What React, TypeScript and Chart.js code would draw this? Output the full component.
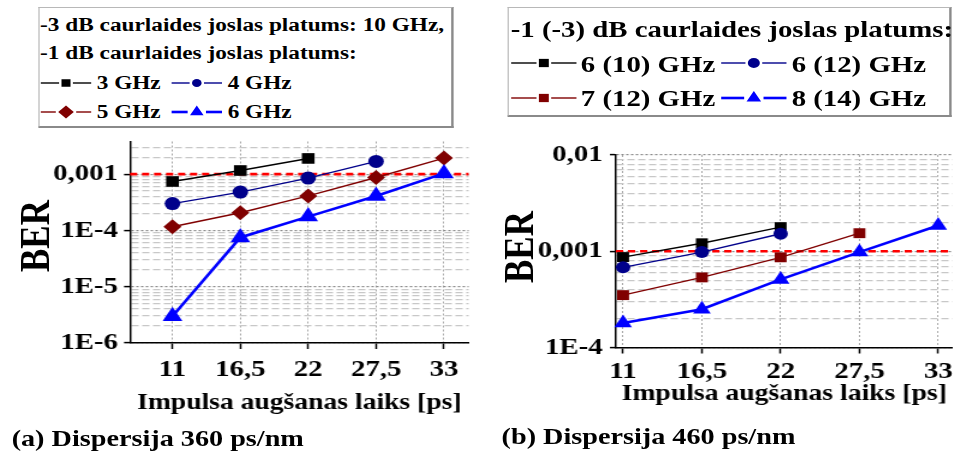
import React, { useEffect, useRef } from 'react';
import { Chart, registerables } from 'chart.js';

Chart.register(...registerables);

// The reference figure is horizontally stretched; we lay it out in a
// narrower logical space and stretch it back with a CSS transform.
const SX = 1.2;
const LOGICAL_W = 962 / SX;
const FONT = '"Liberation Serif", "Times New Roman", Times, serif';

// ---------- shared data ----------
const X_VALUES = [11, 16.5, 22, 27.5, 33];
const X_TICK_LABELS = ['11', '16,5', '22', '27,5', '33'];
const THRESHOLD = 0.001;
const X_AXIS_TITLE = 'Impulsa augšanas laiks [ps]';
const Y_AXIS_TITLE = 'BER';

// ---------- (a) Dispersija 360 ps/nm ----------
const A_CAPTION = '(a) Dispersija 360 ps/nm';
const A_LEGEND_TITLE_1 = '-3 dB caurlaides joslas platums: 10 GHz,';
const A_LEGEND_TITLE_2 = '-1 dB caurlaides joslas platums:';
const A_LABELS = ['3 GHz', '4 GHz', '5 GHz', '6 GHz'];
const A_3GHZ = [7.4e-4, 1.16e-3, 1.9e-3];
const A_4GHZ = [3.0e-4, 4.8e-4, 8.5e-4, 1.68e-3];
const A_5GHZ = [1.16e-4, 2.06e-4, 4.1e-4, 8.7e-4, 1.93e-3];
const A_6GHZ = [3.0e-6, 7.5e-5, 1.76e-4, 4.1e-4, 1.03e-3];
const A_Y_MIN = 1e-6;
const A_Y_MAX = 3.8e-3;
const A_DECADES = [1e-6, 1e-5, 1e-4, 1e-3];
const A_DECADE_LABELS = ['1E-6', '1E-5', '1E-4', '0,001'];

// ---------- (b) Dispersija 460 ps/nm ----------
const B_CAPTION = '(b) Dispersija 460 ps/nm';
const B_LEGEND_TITLE = '-1 (-3) dB caurlaides joslas platums:';
const B_LABELS = ['6 (10) GHz', '6 (12) GHz', '7 (12) GHz', '8 (14) GHz'];
const B_6_10 = [8.7e-4, 1.21e-3, 1.78e-3];
const B_6_12 = [6.8e-4, 9.8e-4, 1.52e-3];
const B_7_12 = [3.5e-4, 5.35e-4, 8.65e-4, 1.54e-3];
const B_8_14 = [1.8e-4, 2.5e-4, 5.1e-4, 9.8e-4, 1.85e-3];
const B_Y_MIN = 1e-4;
const B_Y_MAX = 1e-2;
const B_DECADES = [1e-4, 1e-3, 1e-2];
const B_DECADE_LABELS = ['1E-4', '0,001', '0,01'];

const BLACK = '#000000';
const NAVY = '#00008b';
const DARKRED = '#800000';
const BLUE = '#0000ff';

type Series = { label: string; values: number[]; color: string; width: number; style: string; radius: number };

const A_SERIES: Series[] = [
  { label: A_LABELS[0], values: A_3GHZ, color: BLACK, width: 1.4, style: 'rect', radius: 7.5 },
  { label: A_LABELS[1], values: A_4GHZ, color: NAVY, width: 1.4, style: 'circle', radius: 6.5 },
  { label: A_LABELS[2], values: A_5GHZ, color: DARKRED, width: 1.4, style: 'rectRot', radius: 7.5 },
  { label: A_LABELS[3], values: A_6GHZ, color: BLUE, width: 2.6, style: 'triangle', radius: 9.5 },
];

const B_SERIES: Series[] = [
  { label: B_LABELS[0], values: B_6_10, color: BLACK, width: 1.4, style: 'rect', radius: 7 },
  { label: B_LABELS[1], values: B_6_12, color: NAVY, width: 1.4, style: 'circle', radius: 6 },
  { label: B_LABELS[2], values: B_7_12, color: DARKRED, width: 1.4, style: 'rect', radius: 7 },
  { label: B_LABELS[3], values: B_8_14, color: BLUE, width: 2.6, style: 'triangle', radius: 8.5 },
];

type PanelSpec = {
  series: Series[];
  yMin: number;
  yMax: number;
  decades: number[];
  decadeLabels: string[];
  xMin: number;
  xMax: number;
  padding: { top: number; right: number; left: number; bottom: number };
  yAxisWidth: number;
  xAxisHeight: number;
  xTickPad: number;
  yTickPad: number;
  xTitlePadBottom: number;
};

const thresholdPlugin = {
  id: 'thresholdLine',
  beforeDatasetsDraw(chart: any) {
    const { ctx, chartArea, scales } = chart;
    const y = scales.y.getPixelForValue(THRESHOLD);
    ctx.save();
    ctx.strokeStyle = '#ff0000';
    ctx.lineWidth = 2.6;
    ctx.setLineDash([6, 4]);
    ctx.beginPath();
    ctx.moveTo(chartArea.left, y);
    ctx.lineTo(chartArea.right, y);
    ctx.stroke();
    ctx.restore();
  },
};

function logTicks(decades: number[], max: number) {
  const out: number[] = [];
  for (const d of decades) {
    for (let m = 1; m <= 9; m++) {
      const v = m * d;
      if (v <= max * 1.000001) out.push(v);
    }
  }
  return out;
}

function zeroPadding(sc: any) {
  sc.paddingTop = 0;
  sc.paddingBottom = 0;
  sc.paddingLeft = 0;
  sc.paddingRight = 0;
}

function buildConfig(p: PanelSpec): any {
  const ticks = logTicks(p.decades, p.yMax);
  const decadeIndex = (v: number) => p.decades.findIndex((d) => Math.abs(v / d - 1) < 1e-6);
  const isMajor = (c: any) => !!(c && c.tick && decadeIndex(c.tick.value) >= 0);
  const n = p.series.length;
  return {
    type: 'line',
    data: {
      datasets: p.series.map((s, k) => ({
        label: s.label,
        data: s.values.map((y, i) => ({ x: X_VALUES[i], y })),
        borderColor: s.color,
        backgroundColor: s.color,
        borderWidth: s.width,
        pointStyle: s.style,
        pointRadius: s.radius,
        pointHoverRadius: s.radius,
        pointBackgroundColor: s.color,
        pointBorderColor: s.color,
        pointBorderWidth: 0,
        tension: 0,
        fill: false,
        order: n - k,
        clip: false,
      })),
    },
    options: {
      animation: false,
      responsive: true,
      maintainAspectRatio: false,
      devicePixelRatio: 1,
      events: [],
      layout: { padding: p.padding },
      plugins: {
        legend: { display: false },
        tooltip: { enabled: false },
        title: { display: false },
      },
      scales: {
        x: {
          type: 'linear',
          min: p.xMin,
          max: p.xMax,
          afterBuildTicks: (sc: any) => {
            sc.ticks = X_VALUES.map((v) => ({ value: v }));
          },
          afterFit: (sc: any) => {
            sc.height = p.xAxisHeight;
            zeroPadding(sc);
          },
          ticks: {
            autoSkip: false,
            maxRotation: 0,
            padding: p.xTickPad,
            color: '#000',
            font: { family: FONT, size: 24, weight: 'bold' },
            callback: (v: any) => {
              const i = X_VALUES.indexOf(Number(v));
              return i >= 0 ? X_TICK_LABELS[i] : '';
            },
          },
          grid: {
            color: '#a8a8a8',
            lineWidth: 1,
            tickColor: '#000',
            tickLength: 6,
            tickWidth: 1.5,
            tickBorderDash: [],
          },
          border: { display: true, color: '#000', width: 1.5, dash: [2, 2] },
          title: {
            display: true,
            text: X_AXIS_TITLE,
            color: '#000',
            font: { family: FONT, size: 23, weight: 'bold' },
            padding: { top: 0, bottom: p.xTitlePadBottom },
          },
        },
        y: {
          type: 'logarithmic',
          min: p.yMin,
          max: p.yMax,
          afterBuildTicks: (sc: any) => {
            sc.ticks = ticks.map((v) => ({ value: v }));
          },
          afterFit: (sc: any) => {
            sc.width = p.yAxisWidth;
            zeroPadding(sc);
          },
          ticks: {
            autoSkip: false,
            padding: p.yTickPad,
            color: '#000',
            font: { family: FONT, size: 24, weight: 'bold' },
            callback: (v: any) => {
              const i = decadeIndex(Number(v));
              return i >= 0 ? p.decadeLabels[i] : '';
            },
          },
          grid: {
            color: (c: any) => (isMajor(c) ? '#8a8a8a' : '#c8c8c8'),
            lineWidth: (c: any) => (isMajor(c) ? 1.2 : 1.3),
            tickColor: (c: any) => (isMajor(c) ? '#000' : 'rgba(0,0,0,0)'),
            tickLength: 5,
            tickWidth: 1.5,
            tickBorderDash: [],
          },
          border: {
            display: true,
            color: '#000',
            width: 1.5,
            dash: (c: any) => (isMajor(c) ? [2, 2] : [6, 3]),
          },
          title: { display: false },
        },
      },
    },
    plugins: [thresholdPlugin],
  };
}

const A_SPEC: PanelSpec = {
  series: A_SERIES,
  yMin: A_Y_MIN,
  yMax: A_Y_MAX,
  decades: A_DECADES,
  decadeLabels: A_DECADE_LABELS,
  xMin: 7.56,
  xMax: 35,
  padding: { top: 11.5, right: 4.17, left: 0, bottom: 0 },
  yAxisWidth: 108.33,
  xAxisHeight: 77,
  xTickPad: 6,
  yTickPad: 5,
  xTitlePadBottom: 3.5,
};

const B_SPEC: PanelSpec = {
  series: B_SERIES,
  yMin: B_Y_MIN,
  yMax: B_Y_MAX,
  decades: B_DECADES,
  decadeLabels: B_DECADE_LABELS,
  xMin: 10.5,
  xMax: 34,
  padding: { top: 25, right: 0.83, left: 0, bottom: 0 },
  yAxisWidth: 105,
  xAxisHeight: 72.5,
  xTickPad: 4,
  yTickPad: 6,
  xTitlePadBottom: 12.5,
};

function ChartPanel({ spec, left, top, width, height }: { spec: PanelSpec; left: number; top: number; width: number; height: number }) {
  const ref = useRef<HTMLCanvasElement | null>(null);
  useEffect(() => {
    if (!ref.current) return;
    const chart = new Chart(ref.current, buildConfig(spec));
    return () => chart.destroy();
  }, [spec]);
  return (
    <div style={{ position: 'absolute', left, top, width, height }}>
      <canvas ref={ref} />
    </div>
  );
}

function LegendSymbol({ s, left, cy, width, mSize }: { s: Series; left: number; cy: number; width: number; mSize: number }) {
  const h = 24;
  const c = h / 2;
  const mx = width / 2;
  const gap = 2;
  let marker: React.ReactNode = null;
  let half = mSize;
  if (s.style === 'rect') {
    half = mSize * 0.75;
    marker = <rect x={mx - half} y={c - half} width={half * 2} height={half * 2} fill={s.color} />;
  } else if (s.style === 'circle') {
    marker = <circle cx={mx} cy={c} r={mSize} fill={s.color} />;
  } else if (s.style === 'rectRot') {
    half = mSize;
    marker = <polygon points={`${mx - half},${c} ${mx},${c - half} ${mx + half},${c} ${mx},${c + half}`} fill={s.color} />;
  } else if (s.style === 'triangle') {
    const r = mSize;
    const hw = (r * Math.sqrt(3)) / 2;
    half = hw;
    marker = <polygon points={`${mx},${c - r} ${mx + hw},${c + r / 2} ${mx - hw},${c + r / 2}`} fill={s.color} />;
  }
  const lw = s.width;
  return (
    <svg width={width} height={h} style={{ position: 'absolute', left, top: cy - c, overflow: 'visible' }}>
      <line x1={0} y1={c} x2={mx - half - gap} y2={c} stroke={s.color} strokeWidth={lw} />
      <line x1={mx + half + gap} y1={c} x2={width} y2={c} stroke={s.color} strokeWidth={lw} />
      {marker}
    </svg>
  );
}

function Text({ text, left, baseline, size }: { text: string; left: number; baseline: number; size: number }) {
  return (
    <div
      style={{
        position: 'absolute',
        left,
        top: baseline - 0.8375 * size,
        fontFamily: FONT,
        fontWeight: 'bold',
        fontSize: size,
        lineHeight: `${size}px`,
        whiteSpace: 'nowrap',
        color: '#000',
      }}
    >
      {text}
    </div>
  );
}

function YTitle({ cx, cy, size }: { cx: number; cy: number; size: number }) {
  return (
    <div
      style={{
        position: 'absolute',
        left: cx,
        top: cy,
        transform: 'translate(-50%, -50%) rotate(-90deg)',
        fontFamily: FONT,
        fontWeight: 'bold',
        fontSize: size,
        lineHeight: `${size}px`,
        whiteSpace: 'nowrap',
        color: '#000',
      }}
    >
      {Y_AXIS_TITLE}
    </div>
  );
}

const boxStyle = (left: number, top: number, width: number, height: number): React.CSSProperties => ({
  position: 'absolute',
  left,
  top,
  width,
  height,
  boxSizing: 'border-box',
  borderLeft: '1px solid #b8b8b8',
  borderTop: '1px solid #b8b8b8',
  borderRight: '2px solid #8a8a8a',
  borderBottom: '2px solid #8a8a8a',
  background: '#fff',
});

export default function App() {
  const fA = 19.4;
  const fB = 24;
  return (
    <div style={{ position: 'fixed', left: 0, top: 0, width: 962, height: 457, background: '#fff', overflow: 'hidden' }}>
      <div
        style={{
          position: 'absolute',
          left: 0,
          top: 0,
          width: LOGICAL_W,
          height: 457,
          transform: `scaleX(${SX})`,
          transformOrigin: '0 0',
        }}
      >
        <ChartPanel spec={A_SPEC} left={0} top={130} width={400} height={290} />
        <ChartPanel spec={B_SPEC} left={408.33} top={130} width={LOGICAL_W - 408.33} height={290} />
        <YTitle cx={28.75} cy={236} size={35} />
        <YTitle cx={433.3} cy={246.5} size={35} />

        {/* legend (a) */}
        <div style={boxStyle(32, 7, 345.5, 121)} />
        <Text text={A_LEGEND_TITLE_1} left={33.4} baseline={31.7} size={fA} />
        <Text text={A_LEGEND_TITLE_2} left={33.4} baseline={59.3} size={fA} />
        <LegendSymbol s={A_SERIES[0]} left={33.6} cy={83} width={42} mSize={5} />
        <Text text={A_SERIES[0].label} left={80.6} baseline={89.3} size={fA} />
        <LegendSymbol s={A_SERIES[1]} left={143} cy={83} width={42} mSize={4} />
        <Text text={A_SERIES[1].label} left={189.7} baseline={89.3} size={fA} />
        <LegendSymbol s={A_SERIES[2]} left={33.6} cy={112} width={42} mSize={6.5} />
        <Text text={A_SERIES[2].label} left={80.6} baseline={118.3} size={fA} />
        <LegendSymbol s={A_SERIES[3]} left={143} cy={112} width={42} mSize={6.5} />
        <Text text={A_SERIES[3].label} left={189.7} baseline={118.3} size={fA} />

        {/* legend (b) */}
        <div style={boxStyle(422.75, 6.7, 370.4, 110)} />
        <Text text={B_LEGEND_TITLE} left={425.6} baseline={37.3} size={fB} />
        <LegendSymbol s={B_SERIES[0]} left={425.6} cy={62.5} width={54.4} mSize={5.5} />
        <Text text={B_SERIES[0].label} left={484} baseline={71.7} size={fB} />
        <LegendSymbol s={B_SERIES[1]} left={601.4} cy={62.5} width={54.4} mSize={5} />
        <Text text={B_SERIES[1].label} left={659.7} baseline={71.7} size={fB} />
        <LegendSymbol s={B_SERIES[2]} left={425.6} cy={97.5} width={54.4} mSize={5.5} />
        <Text text={B_SERIES[2].label} left={484} baseline={106} size={fB} />
        <LegendSymbol s={B_SERIES[3]} left={601.4} cy={97.5} width={54.4} mSize={7} />
        <Text text={B_SERIES[3].label} left={659.7} baseline={106} size={fB} />

        {/* captions */}
        <Text text={A_CAPTION} left={9.7} baseline={446.7} size={23.5} />
        <Text text={B_CAPTION} left={418} baseline={445} size={23.5} />
      </div>
    </div>
  );
}
